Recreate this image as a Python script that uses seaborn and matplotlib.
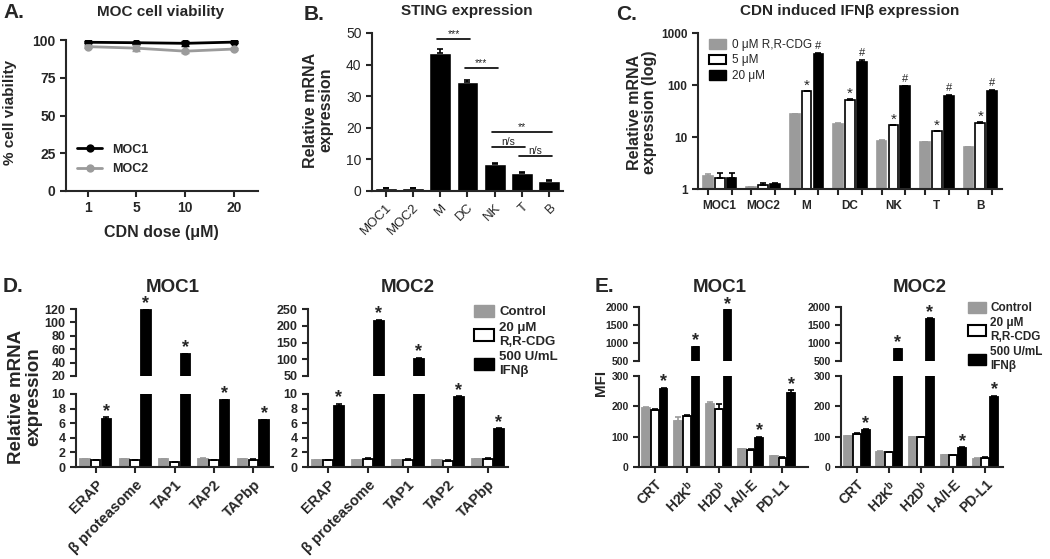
import numpy as np
import pandas as pd
import seaborn as sns
import matplotlib.pyplot as plt
from matplotlib.patches import Patch

sns.set_style("ticks")
plt.rcParams['font.family'] = ['Liberation Sans', 'DejaVu Sans']
plt.rcParams['mathtext.fontset'] = 'custom'
plt.rcParams['mathtext.rm'] = 'Liberation Sans'
plt.rcParams['mathtext.bf'] = 'Liberation Sans:bold'
plt.rcParams['axes.linewidth'] = 1.5

# ---- A: viability
doses = ['1', '5', '10', '20']
moc1_viab = [98.5, 98.2, 97.8, 98.6]
moc1_err = [0.8, 0.6, 1.5, 0.7]
moc2_viab = [95.6, 94.6, 92.6, 94.0]
moc2_err = [0.8, 1.8, 1.0, 0.9]

# ---- B: STING expression
sting_cells = ['MOC1', 'MOC2', 'M', 'DC', 'NK', 'T', 'B']
sting_vals = [1.0, 1.0, 43.6, 34.4, 8.6, 5.8, 3.3]
sting_err = [0.1, 0.1, 1.2, 0.6, 0.15, 0.1, 0.1]
# (from bar, to bar, height, label)
sting_sig = [(2, 3, 48, '***'), (3, 4, 38.8, '***'), (4, 6, 18.8, '**'),
             (4, 5, 14, 'n/s'), (5, 6, 11.2, 'n/s')]

# ---- C: IFNb expression (log)
ifn_cells = ['MOC1', 'MOC2', 'M', 'DC', 'NK', 'T', 'B']
ifn_doses = ['0 μM R,R-CDG', '5 μM', '20 μM']
ifn_0 = [1.75, 1.09, 27.7, 18, 8.5, 8.0, 6.3]
ifn_5 = [1.63, 1.21, 75, 52, 16.7, 12.8, 18.6]
ifn_20 = [1.63, 1.23, 400, 277, 94, 62, 77]
ifn_0_err = [0.22, 0.02, 0.5, 0.4, 0.2, 0.1, 0.1]
ifn_5_err = [0.37, 0.1, 2, 1.5, 0.5, 0.4, 0.5]
ifn_20_err = [0.37, 0.1, 8, 25, 2, 1.5, 2]
ifn_star = ['', '', '*', '*', '*', '*', '*']
ifn_hash = ['', '', '#', '#', '#', '#', '#']

# ---- D: antigen processing mRNA
ap_genes = ['ERAP', 'β proteasome', 'TAP1', 'TAP2', 'TAPbp']
treatments = ['Control', '20 μM\nR,R-CDG', '500 U/mL\nIFNβ']
d1_ctrl = [1.1, 1.1, 1.1, 1.15, 1.1]
d1_cdg = [0.9, 0.9, 0.7, 0.9, 1.0]
d1_ifn = [6.6, 118, 52.5, 9.15, 6.4]
d1_ctrl_err = [0.02, 0.02, 0.02, 0.02, 0.02]
d1_cdg_err = [0.05, 0.05, 0.05, 0.05, 0.05]
d1_ifn_err = [0.25, 1.5, 0.8, 0.08, 0.06]
d2_ctrl = [1.0, 1.0, 1.0, 1.0, 1.05]
d2_cdg = [0.9, 1.1, 1.0, 0.85, 1.1]
d2_ifn = [8.4, 213, 102, 9.6, 5.2]
d2_ctrl_err = [0.02, 0.02, 0.02, 0.02, 0.02]
d2_cdg_err = [0.05, 0.08, 0.05, 0.05, 0.08]
d2_ifn_err = [0.25, 5, 2, 0.08, 0.08]

# ---- E: surface MFI
surf_markers = ['CRT', r'H2K$^\mathbf{b}$', r'H2D$^\mathbf{b}$', 'I-A/I-E', 'PD-L1']
e1_ctrl = [193, 153, 209, 58, 36]
e1_cdg = [189, 167, 190, 57, 30]
e1_ifn = [258, 880, 1905, 95, 243]
e1_ctrl_err = [4, 12, 6, 1, 1]
e1_cdg_err = [2, 3, 17, 2, 2]
e1_ifn_err = [4, 10, 10, 4, 10]
e2_ctrl = [101, 50, 98, 40, 28]
e2_cdg = [108, 48, 98, 39, 30]
e2_ifn = [122, 825, 1680, 63, 230]
e2_ctrl_err = [1, 2, 1, 1, 1]
e2_cdg_err = [4, 3, 2, 2, 3]
e2_ifn_err = [3, 10, 10, 2, 5]

GRAY = '#9b9b9b'
pal3 = [GRAY, 'white', 'black']

W, H = 1050, 559
fig = plt.figure(figsize=(10.5, 5.59), dpi=100)


def box(l, t, r, b):
    return fig.add_axes([l / W, 1 - b / H, (r - l) / W, (b - t) / H])


def ftext(x, y, s, **kw):
    fig.text(x / W, 1 - y / H, s, **kw)


def prism(ax, ysize=9, yweight='bold'):
    sns.despine(ax=ax)
    ax.tick_params(width=1.5, length=4, direction='out')
    for lab in ax.get_yticklabels():
        lab.set_fontsize(ysize)
        lab.set_fontweight(yweight)
    ax.set_xlabel('')
    ax.set_ylabel('')


def add_errors(ax, series, errors, colors):
    conts = list(ax.containers)[:len(series)]
    for cont, vals, errs, col in zip(conts, series, errors, colors):
        xs = [p.get_x() + p.get_width() / 2 for p in cont]
        ax.errorbar(xs, vals, yerr=[np.zeros(len(vals)), errs], fmt='none',
                    ecolor=col, elinewidth=1.2, capsize=2, capthick=1.2)
    return conts


# ================= A =================
axA = box(66, 40, 258, 191)
dfa = pd.DataFrame({'dose': doses * 2,
                    'viability': moc1_viab + moc2_viab,
                    'line': ['MOC1'] * 4 + ['MOC2'] * 4})
sns.lineplot(data=dfa, x='dose', y='viability', hue='line', sort=False,
             palette={'MOC1': 'black', 'MOC2': GRAY}, marker='o',
             markersize=6, markeredgewidth=0, linewidth=2, ax=axA)
axA.errorbar(doses, moc1_viab, yerr=moc1_err, fmt='none', ecolor='black', capsize=3, elinewidth=1.5)
axA.errorbar(doses, moc2_viab, yerr=moc2_err, fmt='none', ecolor=GRAY, capsize=3, elinewidth=1.5)
axA.set_ylim(0, 100)
axA.set_yticks([0, 25, 50, 75, 100])
axA.set_xlim(-0.45, 3.5)
prism(axA, ysize=10)
for lab in axA.get_xticklabels():
    lab.set_fontsize(10)
    lab.set_fontweight('bold')
axA.legend(loc='lower left', bbox_to_anchor=(0.0, 0.03), frameon=False,
           prop={'weight': 'bold', 'size': 9}, handlelength=2.0, labelspacing=0.6)
ftext(161, 12, 'MOC cell viability', ha='center', va='center', fontsize=11, fontweight='bold')
ftext(161, 232, 'CDN dose (μM)', ha='center', va='center', fontsize=11.5, fontweight='bold')
ftext(10, 112, '% cell viability', ha='center', va='center', rotation=90, fontsize=11, fontweight='bold')
ftext(3, 12, 'A.', ha='left', va='center', fontsize=15, fontweight='bold')

# ================= B =================
axB = box(372, 33, 563, 191)
sns.barplot(x=sting_cells, y=sting_vals, color='black', width=0.8,
            errorbar=None, ax=axB)
conts = add_errors(axB, [sting_vals], [sting_err], ['black'])
xsB = [p.get_x() + p.get_width() / 2 for p in conts[0]]
for i, j, y, lab in sting_sig:
    axB.plot([xsB[i] - 0.1, xsB[j] + 0.1], [y, y], color='black', lw=1.2, clip_on=False)
    axB.text((xsB[i] + xsB[j]) / 2, y, lab, ha='center', va='bottom', fontsize=7.5)
axB.set_ylim(0, 50)
axB.set_xlim(-0.5, 6.5)
prism(axB, ysize=10, yweight='normal')
plt.setp(axB.get_xticklabels(), rotation=45, ha='right', rotation_mode='anchor', fontsize=9.5)
ftext(467, 11, 'STING expression', ha='center', va='center', fontsize=11, fontweight='bold')
ftext(318, 110, 'Relative mRNA\nexpression', ha='center', va='center', rotation=90,
      fontsize=11.5, fontweight='bold', linespacing=1.0)
ftext(304, 14, 'B.', ha='left', va='center', fontsize=15, fontweight='bold')

# ================= C =================
axC = box(698, 33, 1002, 189)
dfc = pd.DataFrame({'cell': ifn_cells * 3,
                    'dose': np.repeat(ifn_doses, len(ifn_cells)),
                    'value': ifn_0 + ifn_5 + ifn_20})
sns.barplot(data=dfc, x='cell', y='value', hue='dose', hue_order=ifn_doses,
            palette=pal3, width=0.82, gap=0.18, edgecolor='black', linewidth=1.2,
            errorbar=None, legend=False, ax=axC)
axC.set_yscale('log')
for p in axC.containers[0]:
    p.set_edgecolor(GRAY)
conts = add_errors(axC, [ifn_0, ifn_5, ifn_20], [ifn_0_err, ifn_5_err, ifn_20_err],
                   [GRAY, 'black', 'black'])
for cont, vals, errs, marks in [(conts[1], ifn_5, ifn_5_err, ifn_star),
                                (conts[2], ifn_20, ifn_20_err, ifn_hash)]:
    for p, v, e, m in zip(cont, vals, errs, marks):
        if m:
            axC.annotate(m, (p.get_x() + p.get_width() / 2, v + e),
                         xytext=(0, 1) if m == '*' else (0, 3),
                         textcoords='offset points', ha='center', va='baseline',
                         fontsize=11 if m == '*' else 8)
allx = [p.get_x() + p.get_width() / 2 for c in conts for p in c]
axC.set_xticks(allx, minor=True)
axC.set_ylim(1, 1000)
axC.set_xlim(-0.5, 6.5)
prism(axC, ysize=9)
axC.tick_params(axis='x', which='major', length=0, pad=8)
axC.tick_params(axis='x', which='minor', length=4, width=1.5)
axC.tick_params(axis='y', which='minor', length=0)
axC.set_yticks([1, 10, 100, 1000], ['1', '10', '100', '1000'])
for lab in axC.get_yticklabels() + axC.get_xticklabels():
    lab.set_fontweight('bold')
    lab.set_fontsize(8.5)
handlesC = [Patch(facecolor=GRAY, edgecolor=GRAY),
            Patch(facecolor='white', edgecolor='black', linewidth=1.5),
            Patch(facecolor='black', edgecolor='black')]
axC.legend(handlesC, ifn_doses, loc='upper left', bbox_to_anchor=(0.0, 1.03), frameon=False,
           fontsize=8.5, handlelength=1.5, handleheight=0.9, labelspacing=0.3, handletextpad=0.5)
ftext(850, 11, 'CDN induced IFNβ expression', ha='center', va='center', fontsize=11, fontweight='bold')
ftext(642, 112, 'Relative mRNA\nexpression (log)', ha='center', va='center', rotation=90,
      fontsize=11.5, fontweight='bold', linespacing=1.0)
ftext(616, 14, 'C.', ha='left', va='center', fontsize=15, fontweight='bold')


# ================= D / E (broken axes) =================
def broken_panel(l, r, top_tb, bot_tb, cats, series, errors, top_lim, top_ticks,
                 bot_lim, bot_ticks, xlim, xfs, yfs, title, title_x):
    ax_t = box(l, top_tb[0], r, top_tb[1])
    ax_b = box(l, bot_tb[0], r, bot_tb[1])
    df = pd.DataFrame({'cat': cats * 3,
                       'treat': np.repeat(treatments, len(cats)),
                       'value': np.concatenate(series)})
    for ax in (ax_t, ax_b):
        sns.barplot(data=df, x='cat', y='value', hue='treat', hue_order=treatments,
                    palette=pal3, width=0.82, gap=0.12, edgecolor='black', linewidth=1.3,
                    errorbar=None, legend=False, ax=ax)
        for p in ax.containers[0]:
            p.set_edgecolor(GRAY)
        conts = add_errors(ax, series, errors, [GRAY, 'black', 'black'])
        ax.set_xlim(xlim)
    # stars above the treated bars
    for p, v, e in zip(conts[2], series[2], errors[2]):
        top = v + e
        target = ax_t if top > bot_lim[1] else ax_b
        target.annotate('*', (p.get_x() + p.get_width() / 2, top), xytext=(0, 1),
                        textcoords='offset points', ha='center', va='baseline',
                        fontsize=13, fontweight='bold', annotation_clip=False)
    ax_t.set_ylim(top_lim)
    ax_t.set_yticks(top_ticks)
    ax_b.set_ylim(bot_lim)
    ax_b.set_yticks(bot_ticks)
    prism(ax_t, ysize=yfs)
    prism(ax_b, ysize=yfs)
    ax_t.spines['bottom'].set_visible(False)
    ax_t.tick_params(axis='x', bottom=False, labelbottom=False)
    ax_b.set_xticks(range(len(cats)), cats)
    plt.setp(ax_b.get_xticklabels(), rotation=45, ha='right', rotation_mode='anchor',
             fontsize=xfs, fontweight='bold')
    ftext(title_x, 288, title, ha='center', va='center', fontsize=13.5, fontweight='bold')
    return ax_t, ax_b


broken_panel(76, 273, (309, 376), (394, 467), ap_genes,
             [d1_ctrl, d1_cdg, d1_ifn], [d1_ctrl_err, d1_cdg_err, d1_ifn_err],
             (20, 120), [20, 40, 60, 80, 100, 120], (0, 10), [0, 2, 4, 6, 8, 10],
             (-0.5, 4.5), 10.5, 9, 'MOC1', 173)
broken_panel(308, 508, (309, 376), (394, 467), ap_genes,
             [d2_ctrl, d2_cdg, d2_ifn], [d2_ctrl_err, d2_cdg_err, d2_ifn_err],
             (50, 250), [50, 100, 150, 200, 250], (0, 10), [0, 2, 4, 6, 8, 10],
             (-0.5, 4.5), 10.5, 9, 'MOC2', 408)
ftext(25, 397, 'Relative mRNA\nexpression', ha='center', va='center', rotation=90,
      fontsize=13.5, fontweight='bold', linespacing=1.0)
ftext(3, 286, 'D.', ha='left', va='center', fontsize=15, fontweight='bold')

broken_panel(639, 808, (307, 361), (376, 467), surf_markers,
             [e1_ctrl, e1_cdg, e1_ifn], [e1_ctrl_err, e1_cdg_err, e1_ifn_err],
             (500, 2000), [500, 1000, 1500, 2000], (0, 300), [0, 100, 200, 300],
             (-0.5, 4.8), 10, 7.5, 'MOC1', 720)
broken_panel(841, 1003, (307, 361), (376, 467), surf_markers,
             [e2_ctrl, e2_cdg, e2_ifn], [e2_ctrl_err, e2_cdg_err, e2_ifn_err],
             (500, 2000), [500, 1000, 1500, 2000], (0, 300), [0, 100, 200, 300],
             (-0.5, 4.55), 10, 7.5, 'MOC2', 920)
ftext(601, 383, 'MFI', ha='center', va='center', rotation=90, fontsize=11, fontweight='bold')
ftext(595, 286, 'E.', ha='left', va='center', fontsize=15, fontweight='bold')

handlesD = [Patch(facecolor=GRAY, edgecolor=GRAY),
            Patch(facecolor='white', edgecolor='black', linewidth=1.5),
            Patch(facecolor='black', edgecolor='black')]
for lx, ty, fs in [(474, 305, 9.5), (968, 302, 8.5)]:
    fig.legend(handlesD, treatments, loc='upper left', bbox_to_anchor=(lx / W, 1 - ty / H),
               frameon=False, prop={'weight': 'bold', 'size': fs}, handlelength=1.5,
               handleheight=1.0, labelspacing=0.25, handletextpad=0.4, borderaxespad=0,
               borderpad=0)

fig.savefig('out.png', dpi=100)
